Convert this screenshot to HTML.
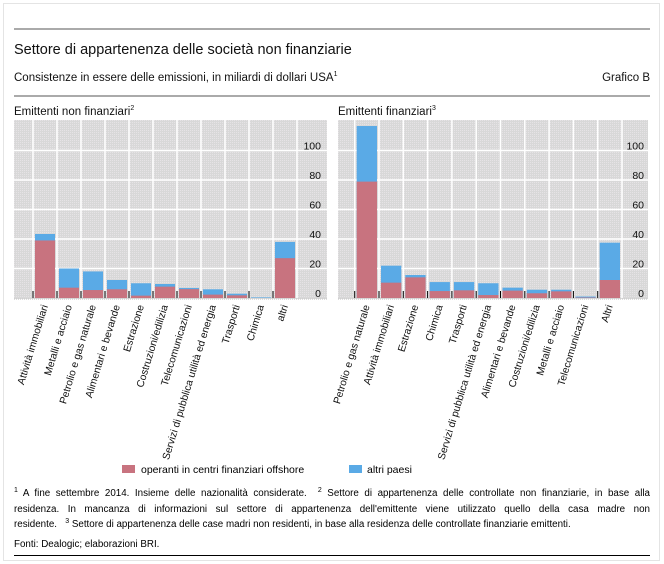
<!DOCTYPE html>
<html><head><meta charset="utf-8"><style>
body{margin:0;background:#fff;font-family:"Liberation Sans",sans-serif;}
#wrap{position:relative;width:664px;height:564px;overflow:hidden;}
.fn{position:absolute;left:14px;width:636px;font-size:9.8px;line-height:15.5px;color:#000;white-space:nowrap;}
.fn div{height:15.5px;}
.fn .j{text-align:justify;text-align-last:justify;white-space:normal;}
.fn sup{font-size:7px;line-height:0;vertical-align:0;position:relative;top:-4px;}
</style></head><body>
<div id="wrap">
<svg id="svg" width="664" height="564" style="position:absolute;left:0;top:0">
<defs><pattern id="dots" width="2" height="2" patternUnits="userSpaceOnUse"><rect width="2" height="2" fill="#d8d8d8"/><rect width="1" height="1" fill="#e6e3e6"/></pattern></defs>
<rect x="3.5" y="3.5" width="656" height="557" fill="none" stroke="#c8c8c8" stroke-dasharray="1,1"/>
<line x1="14" y1="29" x2="650" y2="29" stroke="#555" stroke-width="1"/>
<text x="14" y="54" font-size="14.5" fill="#111">Settore di appartenenza delle società non finanziarie</text>
<text x="14" y="81" font-size="11.5" fill="#111">Consistenze in essere delle emissioni, in miliardi di dollari USA<tspan dy="-5" font-size="7">1</tspan></text>
<text x="650" y="81" font-size="11.5" text-anchor="end" fill="#111">Grafico B</text>
<line x1="14" y1="96" x2="650" y2="96" stroke="#555" stroke-width="1"/>
<text x="14" y="115" font-size="11.5" fill="#111">Emittenti non finanziari<tspan dy="-5" font-size="7">2</tspan></text>
<text x="338" y="115" font-size="11.5" fill="#111">Emittenti finanziari<tspan dy="-5" font-size="7">3</tspan></text>
<g id="left"></g>
<g id="right"></g>
<rect x="122" y="465" width="13" height="8" fill="#c8737f"/>
<text x="141" y="473" font-size="10.5">operanti in centri finanziari offshore</text>
<rect x="349" y="465" width="13" height="8" fill="#5aaae6"/>
<text x="367" y="473" font-size="10.5">altri paesi</text>
<line x1="14" y1="555.5" x2="650" y2="555.5" stroke="#000" stroke-width="1"/>
</svg>
<div class="fn" style="top:486px">
<div class="j"><sup>1</sup> A fine settembre 2014. Insieme delle nazionalità considerate. &nbsp;<sup>2</sup> Settore di appartenenza delle controllate non finanziarie, in base alla</div>
<div class="j">residenza. In mancanza di informazioni sul settore di appartenenza dell'emittente viene utilizzato quello della casa madre non</div>
<div>residente. &nbsp;&nbsp;<sup>3</sup> Settore di appartenenza delle case madri non residenti, in base alla residenza delle controllate finanziarie emittenti.</div>
</div>
<div class="fn" style="top:537px">Fonti: Dealogic; elaborazioni BRI.</div>
</div>
<script>
const leftCategories=["Attività immobiliari","Metalli e acciaio","Petrolio e gas naturale","Alimentari e bevande","Estrazione","Costruzioni/edilizia","Telecomunicazioni","Servizi di pubblica utilità ed energia","Trasporti","Chimica","altri"];
const leftOffshore=[39,7,5.4,5.9,1.6,7.7,6,2.3,1.8,0,27];
const leftTotal=[43.4,20,18,12.2,10,9.5,6.8,5.9,2.9,0.4,38];
const rightCategories=["Petrolio e gas naturale","Attività immobiliari","Estrazione","Chimica","Trasporti","Servizi di pubblica utilità ed energia","Alimentari e bevande","Costruzioni/edilizia","Metalli e acciaio","Telecomunicazioni","Altri"];
const rightOffshore=[78.9,10.4,14,4.7,5.2,2,5,3.2,4.5,0.3,12.2];
const rightTotal=[116.6,21.9,15.6,10.8,10.8,10,7,5.6,5.6,1,37.5];
const yTicks=[0,20,40,60,80,100];
const NS="http://www.w3.org/2000/svg";
const base=298, k=1.475;
function yScale(v){return base-v*k;}
function mk(tag,attrs,parent){const e=document.createElementNS(NS,tag);for(const a in attrs)e.setAttribute(a,attrs[a]);parent.appendChild(e);return e;}
function panel(g,x0,x1,b0,step,labelX,cats,off,tot,key){
  const bg=mk('rect',{x:x0,y:120,width:x1-x0,height:179,fill:'url(#dots)'},g);
  
  
  yTicks.forEach(t=>{
    const y=yScale(t);
    if(t>0){const l=mk('line',{x1:x0,x2:x1,y1:y,y2:y,stroke:'#fff','stroke-width':1.5},g);
      
      }
    const tx=mk('text',{x:labelX,y:y-1,'font-size':10.5,'text-anchor':'end',fill:'#111'},g);
    tx.textContent=t;
    
    
  });
  for(let i=0;i<=cats.length;i++){
    const x=b0+step*i;
    const l=mk('line',{x1:x,x2:x,y1:120,y2:base,stroke:'#fff','stroke-width':1.5},g);
    
    
  }
  cats.forEach((c,i)=>{
    const x=b0+step*i+2, w=step-4;
    const rb=mk('rect',{x:x,y:yScale(tot[i]),width:w,height:tot[i]*k,fill:'#5aaae6'},g);
    
    
    const rp=mk('rect',{x:x,y:yScale(off[i]),width:w,height:off[i]*k,fill:'#c8737f'},g);
    
    
    const tk=mk('line',{x1:b0+step*i,x2:b0+step*i,y1:base-7,y2:base,stroke:'#000','stroke-width':1},g);
    
    
    const cx=b0+step*(i+0.5)+3;
    const t=mk('text',{x:0,y:0,'font-size':10.3,'text-anchor':'end',fill:'#111',transform:`translate(${cx},306) rotate(-73)`},g);
    t.textContent=c;
    
    
  });
  const bl=mk('line',{x1:x0,x2:x1,y1:base+1,y2:base+1,stroke:'#bbb','stroke-dasharray':'1,1'},g);
  
  
}
panel(document.getElementById('left'),14,327,33,24,321,leftCategories,leftOffshore,leftTotal,'left');
panel(document.getElementById('right'),338,648,354.7,24.3,644,rightCategories,rightOffshore,rightTotal,'right');
</script>
</body></html>
